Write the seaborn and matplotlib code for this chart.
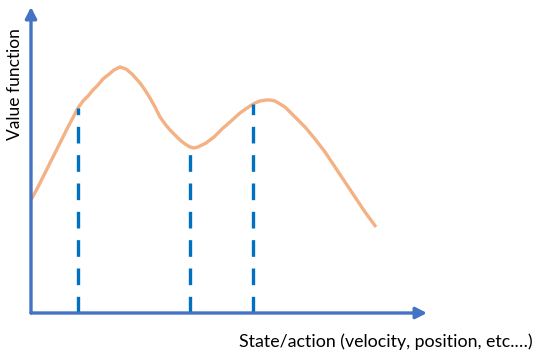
import matplotlib
matplotlib.use("Agg")
import matplotlib.pyplot as plt
import seaborn as sns
import pandas as pd

# Curve (x = state/action, value = value function)
state = [0, 7, 17, 27, 37, 47, 52, 57, 62, 67, 72, 77, 83, 89, 95, 101, 109, 114, 119, 124,
         129, 134, 139, 144, 149, 154, 159, 163, 167, 171, 175, 183, 191, 199, 209, 219, 224,
         229, 235, 239, 244, 254, 264, 274, 284, 294, 304, 314, 324, 334, 345]
value = [113, 126, 146, 166, 186, 205, 212, 217, 223, 228, 234, 238, 243, 246, 244, 239, 230,
         223, 215, 206, 196, 189, 183, 178, 173, 169, 166, 165, 166, 168, 170, 176, 184, 191,
         200, 207, 210, 212, 213, 213, 212, 206, 196, 186, 174, 161, 146, 131, 116, 101, 86]

# Dashed markers (x position, height up to curve)
marker_x = [47, 159, 222]
marker_v = [205, 166, 209]

x_label = "State/action (velocity, position, etc.…)"
y_label = "Value function"

sns.set_theme(style="white")
plt.rcParams['font.family'] = ['Lato', 'DejaVu Sans']

W, H = 536, 351
fig = plt.figure(figsize=(W / 100, H / 100), dpi=100)
ax = fig.add_axes([31 / W, 38 / H, 396 / W, 306 / H])
ax.set_xlim(0, 396)
ax.set_ylim(0, 306)
for s in ax.spines.values():
    s.set_visible(False)
ax.set_xticks([])
ax.set_yticks([])
ax.patch.set_alpha(0)

df = pd.DataFrame({"state": state, "value": value})
sns.lineplot(data=df, x="state", y="value", ax=ax, color="#F4B183", lw=2.4,
             sort=False, estimator=None, solid_capstyle="butt", solid_joinstyle="round")

ax.vlines(marker_x, 0, marker_v, colors="#0070C0", lw=2.4, linestyles=(0, (5, 3.5)))

axis_col = "#4472C4"
ax.annotate("", xy=(396, 0), xytext=(0, 0), annotation_clip=False,
            arrowprops=dict(arrowstyle="-|>,head_length=0.55,head_width=0.28",
                            color=axis_col, lw=2.4, shrinkA=0, shrinkB=0))
ax.annotate("", xy=(0, 306), xytext=(0, 0), annotation_clip=False,
            arrowprops=dict(arrowstyle="-|>,head_length=0.55,head_width=0.28",
                            color=axis_col, lw=2.4, shrinkA=0, shrinkB=0))
ax.set_xlabel("")
ax.set_ylabel("")

fig.text(533 / W, 1 - 342 / H, x_label, ha="right", va="center", fontsize=12.8, color="#000000")
fig.text(15 / W, 1 - 84 / H, y_label, ha="center", va="center", rotation=90, fontsize=12.5, color="#000000")

fig.savefig("out.png", dpi=100)
